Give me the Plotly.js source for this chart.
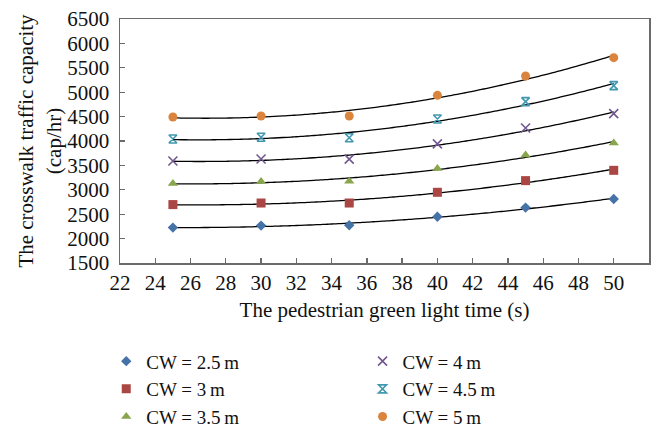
<!DOCTYPE html>
<html>
<head>
<meta charset="utf-8">
<script src="https://cdn.plot.ly/plotly-3.0.1.min.js"></script>
<style>html,body{margin:0;padding:0;background:#fff;}#chart{width:658px;height:430px;}</style>
</head>
<body>
<div id="chart"></div>
<script>
// Data
const greenTime = [25, 30, 35, 40, 45, 50];
const seriesNames = ["CW = 2.5\u2009m", "CW = 3\u2009m", "CW = 3.5\u2009m", "CW = 4\u2009m", "CW = 4.5\u2009m", "CW = 5\u2009m"];
const cw25 = [2225, 2266, 2275, 2447, 2635, 2811];
const cw3  = [2697, 2729, 2729, 2949, 3188, 3399];
const cw35 = [3127, 3168, 3174, 3434, 3713, 3959];
const cw4  = [3590, 3631, 3628, 3941, 4266, 4561];
const cw45 = [4041, 4076, 4066, 4451, 4807, 5134];
const cw5  = [4491, 4512, 4512, 4936, 5331, 5708];
const xTicks = [22, 24, 26, 28, 30, 32, 34, 36, 38, 40, 42, 44, 46, 48, 50, 52];
const yTicks = [1500, 2000, 2500, 3000, 3500, 4000, 4500, 5000, 5500, 6000, 6500];

const allSeries = [cw25, cw3, cw35, cw4, cw45, cw5];
const colors = ["#4572A7", "#AA4643", "#89A54E", "#71588F", "#4198AF", "#DB843D"];
const symbols = ["diamond", "square", "triangle-up", "x-thin-open", "hourglass-open", "circle"];
const sizes = [8, 9, 9, 9, 8, 9];

// quadratic least-squares trendline (as in the source's polynomial trendline)
function quadFit(xs, ys) {
  let S = [0,0,0,0,0], T = [0,0,0];
  for (let i = 0; i < xs.length; i++) {
    let p = 1;
    for (let k = 0; k < 5; k++) { S[k] += p; if (k < 3) T[k] += p * ys[i]; p *= xs[i]; }
  }
  const A = [[S[0],S[1],S[2],T[0]],[S[1],S[2],S[3],T[1]],[S[2],S[3],S[4],T[2]]];
  for (let c = 0; c < 3; c++) {
    for (let r = c + 1; r < 3; r++) {
      const f = A[r][c] / A[c][c];
      for (let k = c; k < 4; k++) A[r][k] -= f * A[c][k];
    }
  }
  const b = [0,0,0];
  for (let r = 2; r >= 0; r--) {
    let s = A[r][3];
    for (let k = r + 1; k < 3; k++) s -= A[r][k] * b[k];
    b[r] = s / A[r][r];
  }
  return b;
}

const traces = [];
const lineX = [];
for (let i = 0; i <= 100; i++) lineX.push(greenTime[0] + (greenTime[greenTime.length-1] - greenTime[0]) * i / 100);
allSeries.forEach((ys) => {
  const b = quadFit(greenTime, ys);
  traces.push({
    x: lineX, y: lineX.map(x => b[0] + b[1]*x + b[2]*x*x),
    mode: "lines", line: {color: "#000", width: 1.3, shape: "spline"}, showlegend: false, hoverinfo: "skip"
  });
});
allSeries.forEach((ys, i) => {
  const open = symbols[i].indexOf("open") >= 0;
  traces.push({
    x: greenTime, y: ys, name: seriesNames[i], mode: "markers",
    legend: i < 3 ? "legend" : "legend2",
    marker: {symbol: symbols[i], size: sizes[i], color: colors[i],
             line: {color: colors[i], width: open ? 1.6 : 0}}
  });
});

const font = {family: "Liberation Serif, Times New Roman, serif", size: 21, color: "#111"};
const legendFont = {family: "Liberation Serif, Times New Roman, serif", size: 19, color: "#111"};
const axisCommon = {
  showline: true, mirror: true, linecolor: "#6b6b6b", linewidth: 1.5,
  ticks: "inside", ticklen: 5, tickcolor: "#6b6b6b", tickwidth: 1.3,
  showgrid: false, zeroline: false, tickfont: font, automargin: false
};
const layout = {
  width: 658, height: 430,
  margin: {l: 120, r: 9, t: 19, b: 167, autoexpand: false},
  paper_bgcolor: "#fff", plot_bgcolor: "#fff",
  font: font,
  xaxis: Object.assign({}, axisCommon, {
    range: [22, 52], tickvals: xTicks, ticktext: xTicks.map(String), ticklabelstandoff: 0,
    title: {text: "The pedestrian green light time (s)", font: font, standoff: 8}
  }),
  yaxis: Object.assign({}, axisCommon, {
    range: [1500, 6500], tickvals: yTicks, ticktext: yTicks.map(String), ticklabelstandoff: 5,
    title: {text: "The crosswalk traffic capacity<br>(cap/hr)", font: font, standoff: 0}
  }),
  legend: {x: -0.026, y: -0.325, xanchor: "left", yanchor: "top", font: legendFont, bgcolor: "rgba(0,0,0,0)", tracegroupgap: 0},
  legend2: {x: 0.4585, y: -0.325, xanchor: "left", yanchor: "top", font: legendFont, bgcolor: "rgba(0,0,0,0)", tracegroupgap: 0},
  showlegend: true
};
Plotly.newPlot("chart", traces, layout, {displayModeBar: false, staticPlot: true});
</script>
</body>
</html>
